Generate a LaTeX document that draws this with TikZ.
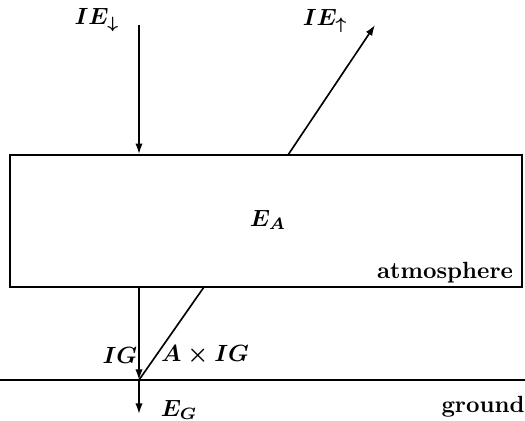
\documentclass[tikz,border=0pt]{standalone}
\usepackage{amsmath, amssymb}
\usepackage{tikz}
\usetikzlibrary{arrows.meta, positioning}
\tikzset{
  lbl/.style={inner sep=1pt,font=\boldmath},
  wordlbl/.style={inner sep=1pt,font=\bfseries},
  atmbox/.style={draw=black,line width=0.7pt,minimum width=7.68cm,minimum height=1.98cm,inner sep=0pt},
  flux/.style={-{Latex[length=1.6mm,width=1.1mm]},line width=0.7pt,black},
  plainflux/.style={line width=0.7pt,black},
}

\begin{document}
\begin{tikzpicture}[x=0.015cm,y=-0.015cm]
  \useasboundingbox (0,0) rectangle (525,421);
  % ---- atmosphere slab and ground ----
  \node[atmbox] (atm) at (266,221) {};
  \node[lbl] (EA) at (268,220) {$E_A$};
  \node[wordlbl,anchor=south east] (atmlbl) at ([xshift=-3pt,yshift=1pt]atm.south east) {atmosphere};
  \coordinate (gl) at (0,380);
  \coordinate (gr) at (525,380);
  \draw[plainflux] (gl) -- (gr);
  \node[wordlbl] (gndlbl) at (483,407) {ground};
  % ---- incoming / outgoing at the top ----
  \coordinate (intop) at (139,25);
  \coordinate (outtip) at (375,25);
  \coordinate (outfoot) at (288,155);
  \draw[flux] (intop) -- (intop |- atm.north);
  \draw[flux] (outfoot) -- (outtip);
  \node[lbl] (IEdn) at (97,20) {$IE_\downarrow$};
  \node[lbl] (IEup) at (331,21) {$IE_\uparrow$};
  % ---- fluxes below the slab ----
  \coordinate (gnd) at (139,380);
  \coordinate (refl) at (204,287);
  \coordinate (eg) at (139,414);
  \draw[flux] (intop |- atm.south) -- (gnd);
  \draw[plainflux] (gnd) -- (refl);
  \draw[flux] (gnd) -- (eg);
  \node[lbl] (IG) at (120,355) {$IG$};
  \node[lbl] (AIG) at (205,355) {$A\times IG$};
  \node[lbl] (EG) at (179,410) {$E_G$};
\end{tikzpicture}
\end{document}
